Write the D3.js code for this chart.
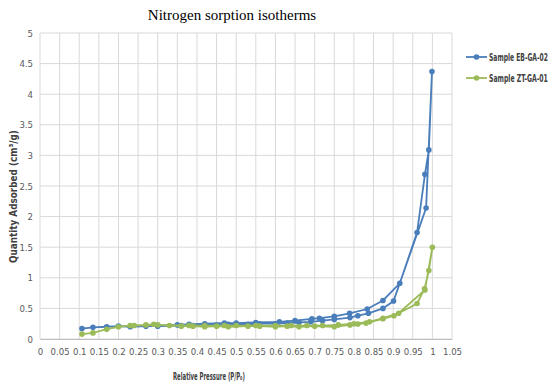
<!DOCTYPE html>
<html>
<head>
<meta charset="utf-8">
<script src="https://cdn.jsdelivr.net/npm/d3@7"></script>
<style>
  body { margin: 0; background: #fff; }
  svg text { font-family: "DejaVu Sans", sans-serif; font-stretch: condensed; }
</style>
</head>
<body>
<div id="chart"></div>
<script>
const seriesNames = ['Sample EB-GA-02', 'Sample ZT-GA-01']
const seriesColors = ['#4a7ebb', '#9bbb59']

// adsorption branch then desorption branch, in measurement order
const ebGa02 = [
    [0.107, 0.17], [0.135, 0.19], [0.17, 0.2], [0.2, 0.21], [0.23, 0.2], [0.27, 0.21], [0.3, 0.21],
    [0.36, 0.22], [0.39, 0.22], [0.42, 0.23], [0.45, 0.23], [0.48, 0.24], [0.53, 0.24], [0.56, 0.25],
    [0.6, 0.25], [0.63, 0.26], [0.66, 0.27], [0.69, 0.28], [0.72, 0.3], [0.75, 0.32], [0.79, 0.35],
    [0.81, 0.38], [0.837, 0.42], [0.874, 0.5], [0.901, 0.62], [0.984, 2.14], [0.999, 4.37],
    [0.991, 3.09], [0.981, 2.69], [0.961, 1.74], [0.917, 0.91], [0.874, 0.63], [0.834, 0.49],
    [0.789, 0.42], [0.75, 0.37], [0.712, 0.34], [0.693, 0.33], [0.65, 0.3], [0.61, 0.28],
    [0.55, 0.27], [0.5, 0.26], [0.47, 0.26], [0.42, 0.25], [0.38, 0.24], [0.35, 0.23], [0.3, 0.22]
]
const ztGa01 = [
    [0.107, 0.08], [0.135, 0.1], [0.17, 0.16], [0.2, 0.2], [0.23, 0.22], [0.27, 0.23], [0.29, 0.24],
    [0.33, 0.22], [0.36, 0.21], [0.39, 0.21], [0.42, 0.2], [0.45, 0.21], [0.48, 0.2], [0.53, 0.21],
    [0.56, 0.21], [0.6, 0.2], [0.63, 0.21], [0.66, 0.2], [0.7, 0.21], [0.75, 0.2], [0.79, 0.23],
    [0.81, 0.245], [0.831, 0.26], [0.874, 0.33], [0.902, 0.38], [0.961, 0.58], [0.98, 0.82],
    [0.991, 1.12], [1.0, 1.5], [0.981, 0.8], [0.914, 0.42], [0.874, 0.34], [0.84, 0.28],
    [0.8, 0.25], [0.76, 0.23], [0.72, 0.22], [0.68, 0.22], [0.64, 0.22], [0.6, 0.22],
    [0.55, 0.22], [0.5, 0.22], [0.47, 0.22], [0.42, 0.22], [0.38, 0.22], [0.3, 0.23], [0.24, 0.22]
]
const allSeries = [ebGa02, ztGa01]

const xTicks = d3.range(0, 21 + 1).map(i => +(i * 0.05).toFixed(2))
const yTicks = d3.range(0, 10 + 1).map(i => i * 0.5)

const chartTitle = 'Nitrogen sorption isotherms'
const xTitle = 'Relative Pressure (P/P₀)'
const yTitle = 'Quantity Adsorbed (cm³/g)'

const width = 551
const height = 388
const plotLeft = 40, plotRight = 452, plotTop = 33, plotBottom = 339

const svg = d3.select('#chart')
    .append('svg')
    .attr('width', width)
    .attr('height', height)

const x = d3.scaleLinear().domain([0, 1.05]).range([plotLeft, plotRight])
const y = d3.scaleLinear().domain([0, 5]).range([plotBottom, plotTop])

// Grid
svg.append('g')
    .selectAll('line')
    .data(xTicks)
    .enter()
    .append('line')
    .attr('x1', d => x(d)).attr('x2', d => x(d))
    .attr('y1', plotTop).attr('y2', plotBottom)
    .attr('stroke', '#d9d9d9')
svg.append('g')
    .selectAll('line')
    .data(yTicks)
    .enter()
    .append('line')
    .attr('x1', plotLeft).attr('x2', plotRight)
    .attr('y1', d => y(d)).attr('y2', d => y(d))
    .attr('stroke', '#d9d9d9')

// Axes
const xAxis = svg.append('g')
    .attr('transform', `translate(0, ${plotBottom})`)
    .call(d3.axisBottom(x).tickValues(xTicks).tickSize(0).tickPadding(9).tickFormat(d => String(d)))
xAxis.select('.domain').attr('stroke', '#bfbfbf')
xAxis.selectAll('text').attr('fill', '#595959').style('font-size', '9.5px')

const yAxis = svg.append('g')
    .attr('transform', `translate(${plotLeft}, 0)`)
    .call(d3.axisLeft(y).tickValues(yTicks).tickSize(0).tickPadding(7).tickFormat(d => String(d)))
yAxis.select('.domain').remove()
yAxis.selectAll('text').attr('fill', '#595959').style('font-size', '9.5px')

// Lines and markers
const line = d3.line().x(d => x(d[0])).y(d => y(d[1]))
allSeries.forEach((data, i) => {
    const g = svg.append('g')
    g.append('path')
        .datum(data)
        .attr('d', line)
        .attr('fill', 'none')
        .attr('stroke', seriesColors[i])
        .attr('stroke-width', 1.8)
    g.selectAll('circle')
        .data(data)
        .enter()
        .append('circle')
        .attr('cx', d => x(d[0]))
        .attr('cy', d => y(d[1]))
        .attr('r', 2.8)
        .attr('fill', seriesColors[i])
})

// squeeze a text horizontally so it spans the given width
function squeeze(sel, w) {
    sel.each(function () {
        const len = this.getComputedTextLength()
        const t = d3.select(this).attr('transform') || ''
        d3.select(this).attr('transform', `${t} scale(${w / len}, 1)`)
    })
}

// Titles
svg.append('text')
    .attr('x', 232).attr('y', 20)
    .attr('text-anchor', 'middle')
    .style('font-family', '"Liberation Serif", "Times New Roman", serif')
    .style('font-stretch', 'normal')
    .style('font-size', '15px')
    .attr('fill', '#000')
    .text(chartTitle)

svg.append('text')
    .attr('transform', 'translate(173, 380)')
    .style('font-size', '10.5px')
    .style('font-weight', 'bold')
    .attr('fill', '#404040')
    .text(xTitle)
    .call(squeeze, 72)

svg.append('text')
    .attr('transform', 'translate(17, 263) rotate(-90)')
    .style('font-size', '10px')
    .style('font-weight', 'bold')
    .attr('fill', '#404040')
    .text(yTitle)
    .call(squeeze, 133)

// Legend
const legend = svg.append('g')
    .selectAll('g')
    .data(seriesNames)
    .enter()
    .append('g')
    .attr('transform', (d, i) => `translate(466, ${57 + i * 21})`)
legend.append('line')
    .attr('x1', 0).attr('x2', 21)
    .attr('stroke', (d, i) => seriesColors[i])
    .attr('stroke-width', 1.8)
legend.append('circle')
    .attr('cx', 10.5).attr('r', 2.8)
    .attr('fill', (d, i) => seriesColors[i])
legend.append('text')
    .attr('transform', 'translate(23, 0)')
    .attr('dy', '0.35em')
    .style('font-size', '10px')
    .style('font-weight', 'bold')
    .attr('fill', '#404040')
    .text(d => d)
    .call(squeeze, 59)
</script>
</body>
</html>
